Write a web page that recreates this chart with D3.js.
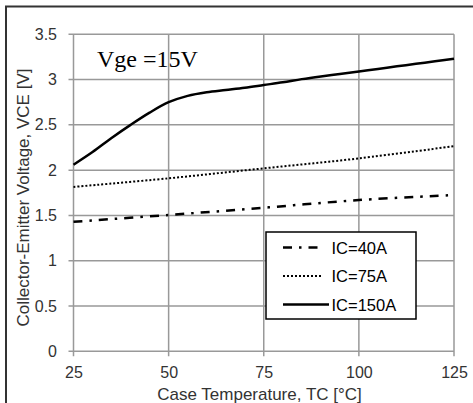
<!DOCTYPE html>
<html><head><meta charset="utf-8">
<script src="https://cdn.jsdelivr.net/npm/d3@7"></script>
<style>html,body{margin:0;padding:0;background:#fff;}svg{display:block;}</style>
</head><body>
<svg id="chart" width="473" height="403"></svg>
<script>
const temps150 = [25, 30, 35, 40, 45, 50, 55, 60, 65, 70, 75, 80, 85, 90, 95, 100, 105, 110, 115, 120, 125];
const ic150 = [2.06, 2.20, 2.355, 2.50, 2.635, 2.75, 2.82, 2.86, 2.885, 2.91, 2.94, 2.97, 3.005, 3.035, 3.062, 3.09, 3.118, 3.146, 3.174, 3.202, 3.23];
const temps75 = [25, 50, 75, 100, 125];
const ic75 = [1.815, 1.91, 2.02, 2.13, 2.265];
const temps40 = [25, 50, 75, 100, 125];
const ic40 = [1.43, 1.505, 1.585, 1.67, 1.725];
const xTicks = [25, 50, 75, 100, 125];
const yTicks = [0, 0.5, 1, 1.5, 2, 2.5, 3, 3.5];
const seriesNames = ["IC=40A", "IC=75A", "IC=150A"];

const svg = d3.select("#chart");
const x = d3.scaleLinear().domain([25, 125]).range([73.5, 454]);
const y = d3.scaleLinear().domain([0, 3.5]).range([351.3, 34.3]);
const font = "'Liberation Sans', Arial, sans-serif";
const grid = "#999";

// outer frame
svg.append("rect").attr("x", 6).attr("y", 6.5).attr("width", 480).attr("height", 420)
  .attr("fill", "none").attr("stroke", "#333").attr("stroke-width", 2);

// grid
const g = svg.append("g");
g.selectAll(".vg").data(xTicks).enter().append("line")
  .attr("x1", d => x(d)).attr("x2", d => x(d)).attr("y1", y(3.5)).attr("y2", y(0) + 5)
  .attr("stroke", grid).attr("stroke-width", 1.5);
g.selectAll(".hg").data(yTicks).enter().append("line")
  .attr("x1", x(25) - 5).attr("x2", x(125)).attr("y1", d => y(d)).attr("y2", d => y(d))
  .attr("stroke", grid).attr("stroke-width", 1.5);

// axes labels using d3 axes (domain hidden)
const xAxis = svg.append("g").attr("transform", `translate(0,${y(0)})`)
  .call(d3.axisBottom(x).tickValues(xTicks).tickSize(0).tickPadding(15));
const yAxis = svg.append("g").attr("transform", `translate(${x(25)},0)`)
  .call(d3.axisLeft(y).tickValues(yTicks).tickSize(0).tickPadding(16.5).tickFormat(d3.format("")));
[xAxis, yAxis].forEach(a => {
  a.select(".domain").remove();
  a.selectAll("text").attr("font-family", font).attr("font-size", 16).attr("fill", "#333");
});

// axis titles
svg.append("text").attr("x", 259.5).attr("y", 399.5)
  .attr("text-anchor", "middle").attr("font-family", font).attr("font-size", 17).attr("fill", "#333")
  .text("Case Temperature, TC [°C]");
svg.append("text").attr("transform", `translate(28.5,197.5) rotate(-90)`)
  .attr("text-anchor", "middle").attr("font-family", font).attr("font-size", 17).attr("fill", "#333")
  .text("Collector-Emitter Voltage, VCE [V]");

// annotation
svg.append("text").attr("x", 97).attr("y", 66.5)
  .attr("font-family", "'Liberation Serif', 'Times New Roman', serif").attr("font-size", 24).attr("fill", "#000")
  .text("Vge =15V");

// lines
const line = d3.line().x(d => x(d[0])).y(d => y(d[1])).curve(d3.curveCatmullRom.alpha(0.5));
const styles = [
  {dash: "9,7,2.5,7", w: 2.5},
  {dash: "2,2", w: 2},
  {dash: null, w: 2.5}
];
const data = [
  temps40.map((t, i) => [t, ic40[i]]),
  temps75.map((t, i) => [t, ic75[i]]),
  temps150.map((t, i) => [t, ic150[i]])
];
data.forEach((d, i) => {
  svg.append("path").datum(d).attr("d", line).attr("fill", "none")
    .attr("stroke", "#000").attr("stroke-width", styles[i].w)
    .attr("stroke-dasharray", styles[i].dash);
});

// legend
const lg = svg.append("g");
lg.append("rect").attr("x", 266).attr("y", 232).attr("width", 150).attr("height", 87)
  .attr("fill", "#fff").attr("stroke", "#000").attr("stroke-width", 1.5);
const rowY = [247.5, 276, 304.5];
const sampleEnd = [320, 322, 329];
seriesNames.forEach((name, i) => {
  lg.append("line").attr("x1", 283).attr("x2", sampleEnd[i]).attr("y1", rowY[i]).attr("y2", rowY[i])
    .attr("stroke", "#000").attr("stroke-width", styles[i].w).attr("stroke-dasharray", styles[i].dash);
  lg.append("text").attr("x", 331.5).attr("y", rowY[i] + 6).attr("font-family", font).attr("font-size", 16.5)
    .attr("fill", "#000").text(name);
});
</script>
</body></html>
